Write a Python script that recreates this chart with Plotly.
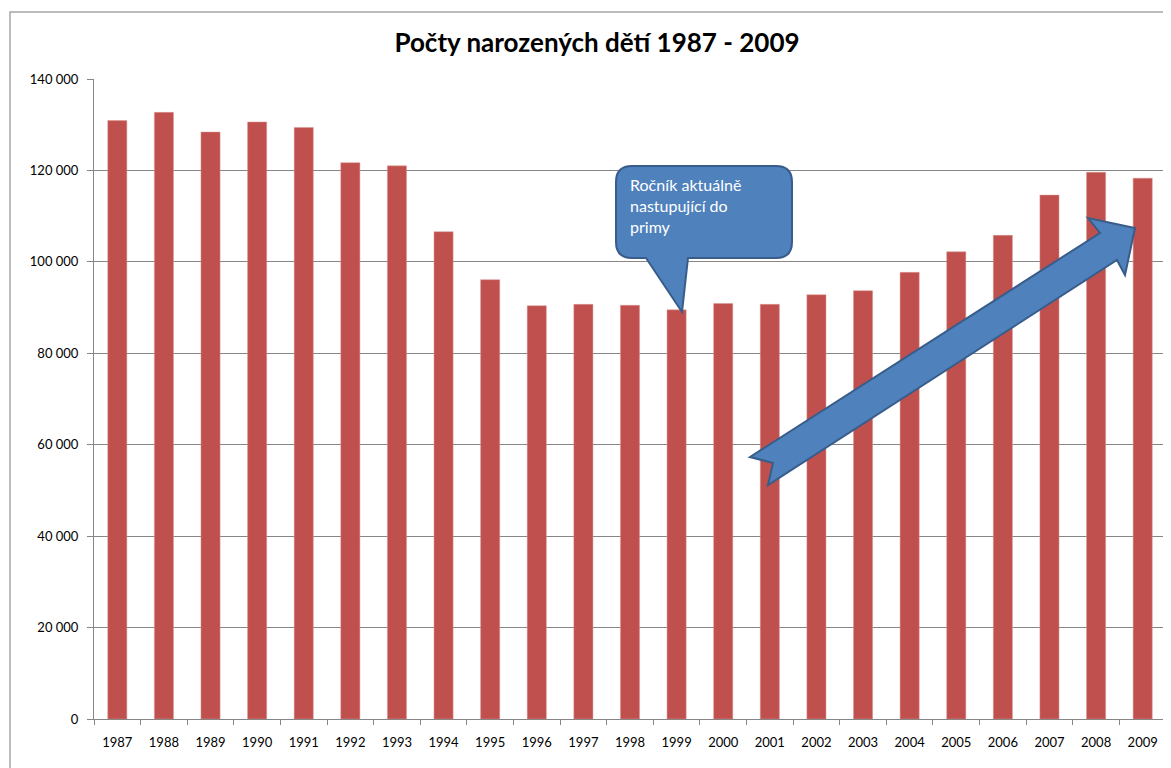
import plotly.graph_objects as go

years = [str(y) for y in range(1987, 2010)]
births = [130900, 132700, 128400, 130600, 129400, 121700, 121000, 106600, 96100,
          90400, 90700, 90500, 89500, 90900, 90700, 92800, 93700, 97700, 102200,
          105800, 114600, 119600, 118300]
y_ticks = [0, 20000, 40000, 60000, 80000, 100000, 120000, 140000]
title_text = "Počty narozených dětí 1987 - 2009"
callout_lines = ["Ročník aktuálně", "nastupující do", "primy"]

OFF = 8  # page body margin
SW, SH = 1171, 768
W, H = SW - OFF, SH - OFF
# plot area in screen pixels
SL, SR, ST, SB = 94, 1166, 79, 719
L, T = SL - OFF, ST - OFF
R = W - (SR - OFF)
B = H - (SB - OFF)
PW, PH = SR - SL, SB - ST


def px(x):
    return (x - SL) / PW


def py(y):
    return (SB - y) / PH


def P(x, y):
    return f"{px(x):.5f},{py(y):.5f}"


def path(points):
    return "M " + " L ".join(P(x, y) for x, y in points) + " Z"


fig = go.Figure()
fig.add_trace(go.Bar(x=years, y=births, marker=dict(color="#C0504D",
                                                    line=dict(color="#D99694", width=0.5)),
                     hoverinfo="x+y"))

# callout path (rounded rect with tail)
x0, x1, y0, y1, r = 616, 792, 166, 258, 16
callout = (
    f"M {P(x0 + r, y0)} L {P(x1 - r, y0)} Q {P(x1, y0)} {P(x1, y0 + r)} "
    f"L {P(x1, y1 - r)} Q {P(x1, y1)} {P(x1 - r, y1)} "
    f"L {P(688, y1)} L {P(682, 312)} L {P(646, y1)} "
    f"L {P(x0 + r, y1)} Q {P(x0, y1)} {P(x0, y1 - r)} "
    f"L {P(x0, y0 + r)} Q {P(x0, y0)} {P(x0 + r, y0)} Z"
)

arrow_pts = [(750, 457), (1100, 233), (1088, 218), (1135, 228),
             (1125, 275), (1117, 260), (768, 485), (773, 463)]

shapes = [
    dict(type="rect", xref="paper", yref="paper", x0=px(10), x1=px(1200),
         y0=py(12), y1=py(800), line=dict(color="#A6A6A6", width=1.5),
         fillcolor="rgba(0,0,0,0)", layer="below"),
    dict(type="path", xref="paper", yref="paper", path=callout,
         fillcolor="#4F81BD", line=dict(color="#385D8A", width=2), layer="above"),
    dict(type="path", xref="paper", yref="paper", path=path(arrow_pts),
         fillcolor="#4F81BD", line=dict(color="#385D8A", width=2), layer="above"),
]

annotations = [
    dict(xref="paper", yref="paper", x=px(628), y=py(173), xanchor="left", yanchor="top",
         text="<br>".join(callout_lines), showarrow=False, align="left",
         font=dict(family="Lato, Open Sans, sans-serif", size=16, color="white")),
]

fig.update_layout(
    width=W, height=H,
    margin=dict(l=L, r=R, t=T, b=B),
    paper_bgcolor="white", plot_bgcolor="white",
    separators=", ",
    title=dict(text=title_text, x=(597 - OFF) / W, xanchor="center",
               y=1 - (43 - OFF) / H, yanchor="middle",
               font=dict(family="Lato, sans-serif", size=26, color="#000000", weight="bold")),
    bargap=0.59,
    showlegend=False,
    shapes=shapes,
    annotations=annotations,
    font=dict(family="Lato, Open Sans, sans-serif", size=13, color="#000000"),
)
fig.update_xaxes(type="category", showline=True, linecolor="#868686", linewidth=1,
                 ticks="outside", tickson="boundaries", ticklen=5, tickcolor="#868686",
                 ticklabelstandoff=11, showgrid=False,
                 tickfont=dict(size=13, color="#000000"))
fig.update_yaxes(range=[0, 140000], tickvals=y_ticks, tickformat=",d",
                 showline=True, linecolor="#868686", linewidth=1,
                 ticks="outside", ticklen=6, tickcolor="#868686",
                 showgrid=True, gridcolor="#868686", gridwidth=1, zeroline=False,
                 ticklabelstandoff=6,
                 tickfont=dict(size=13, color="#000000"))

fig.write_html("out.html")
